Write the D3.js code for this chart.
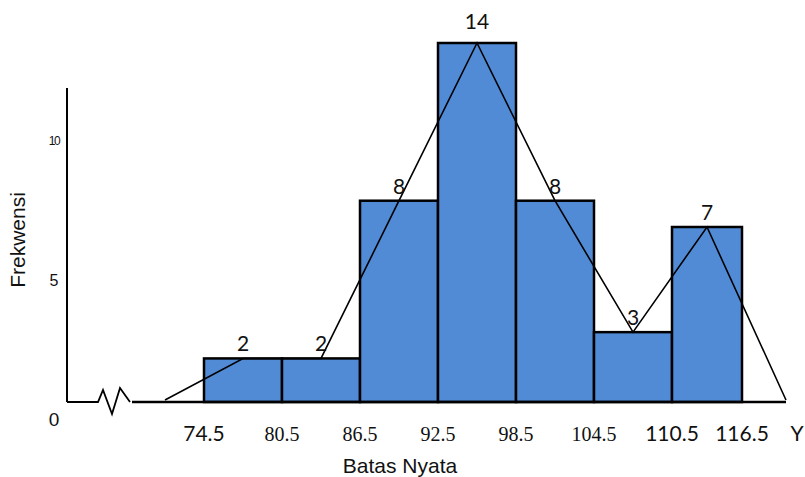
<!DOCTYPE html>
<html><head><meta charset="utf-8">
<script src="https://cdn.jsdelivr.net/npm/d3@7/dist/d3.min.js"></script>
<style>body{margin:0;background:#fff}svg{display:block}</style>
</head><body>
<script>
// ---- data ----
const boundaries = [74.5, 80.5, 86.5, 92.5, 98.5, 104.5, 110.5, 116.5];
const frequencies = [2, 2, 8, 14, 8, 3, 7];
const midpoints = [71.5, 77.5, 83.5, 89.5, 95.5, 101.5, 107.5, 113.5, 119.5];
const polygonFreq = [0, 2, 2, 8, 14, 8, 3, 7, 0];
const serifTicks = [80.5, 86.5, 92.5, 98.5, 104.5];
const yTicks = [0, 5, 10];
const xTitle = "Batas Nyata";
const yTitle = "Frekwensi";
const xEndLabel = "Y";

const W = 805, H = 477;
const svg = d3.select("body").append("svg").attr("width", W).attr("height", H);

const x = d3.scaleLinear().domain([71.5, 110.5, 116.5, 119.5]).range([165, 672, 742, 786]);
const y = d3.scaleLinear().domain([0, 14]).range([411, 43]);
const base = 402;

// bars
const bins = frequencies.map((f, i) => ({x0: boundaries[i], x1: boundaries[i + 1], f}));
svg.selectAll("rect.bar").data(bins).join("rect")
  .attr("x", d => x(d.x0)).attr("width", d => x(d.x1) - x(d.x0))
  .attr("y", d => y(d.f)).attr("height", d => base - y(d.f))
  .attr("fill", "#518bd6").attr("stroke", "#000").attr("stroke-width", 2.5);

// axes lines
svg.append("line").attr("x1", 67).attr("x2", 67).attr("y1", 88).attr("y2", base)
  .attr("stroke", "#000").attr("stroke-width", 2);
svg.append("path")
  .attr("d", `M67,${base}H98L103,390L112,414L120,388L130,${base}`)
  .attr("fill", "none").attr("stroke", "#000").attr("stroke-width", 1.8);
svg.append("line").attr("x1", 132).attr("x2", x(119.5)).attr("y1", base).attr("y2", base)
  .attr("stroke", "#000").attr("stroke-width", 2.5);

// frequency polygon
const pts = midpoints.map((m, i) => [x(m), polygonFreq[i] === 0 ? base - 2 : y(polygonFreq[i])]);
svg.append("path").attr("d", d3.line()(pts))
  .attr("fill", "none").attr("stroke", "#000").attr("stroke-width", 1.6);

// value labels
svg.selectAll("text.val").data(frequencies).join("text")
  .attr("x", (d, i) => x(midpoints[i + 1]))
  .attr("y", d => y(d) - (d === 14 ? 14 : 7))
  .attr("text-anchor", "middle")
  .attr("font-family", "Lato, 'Open Sans', sans-serif").attr("font-size", 21)
  .attr("fill", "#111").text(d => d);

// x tick labels
svg.selectAll("text.xt").data(boundaries).join("text")
  .attr("x", d => x(d)).attr("y", 441)
  .attr("text-anchor", "middle")
  .attr("font-family", d => serifTicks.includes(d) ? "'Liberation Serif', serif" : "Lato, 'Open Sans', sans-serif")
  .attr("font-size", d => serifTicks.includes(d) ? 20 : 21)
  .attr("fill", "#111").text(d => d.toFixed(1));
svg.append("text").attr("x", 797).attr("y", 441).attr("text-anchor", "middle")
  .attr("font-family", "Lato, 'Open Sans', sans-serif").attr("font-size", 21)
  .attr("fill", "#111").text(xEndLabel);

// y tick labels
const ySize = {0: 19, 5: 16, 10: 12};
svg.selectAll("text.yt").data(yTicks).join("text")
  .attr("x", 54).attr("y", d => d === 0 ? 426 : y(d) + 6 - (d === 10 ? 9 : 0))
  .attr("text-anchor", "middle")
  .attr("font-family", "'Liberation Sans', Arial, sans-serif")
  .attr("font-size", d => ySize[d])
  .attr("letter-spacing", d => d === 10 ? -1.5 : 0)
  .attr("fill", "#111").text(d => d);

// titles
svg.append("text").attr("x", 400).attr("y", 473).attr("text-anchor", "middle")
  .attr("font-family", "'Liberation Sans', Arial, sans-serif").attr("font-size", 21)
  .attr("fill", "#111").text(xTitle);
svg.append("text").attr("transform", "translate(25,240) rotate(-90)").attr("text-anchor", "middle")
  .attr("font-family", "'Liberation Sans', Arial, sans-serif").attr("font-size", 21)
  .attr("fill", "#111").text(yTitle);
</script>
</body></html>
